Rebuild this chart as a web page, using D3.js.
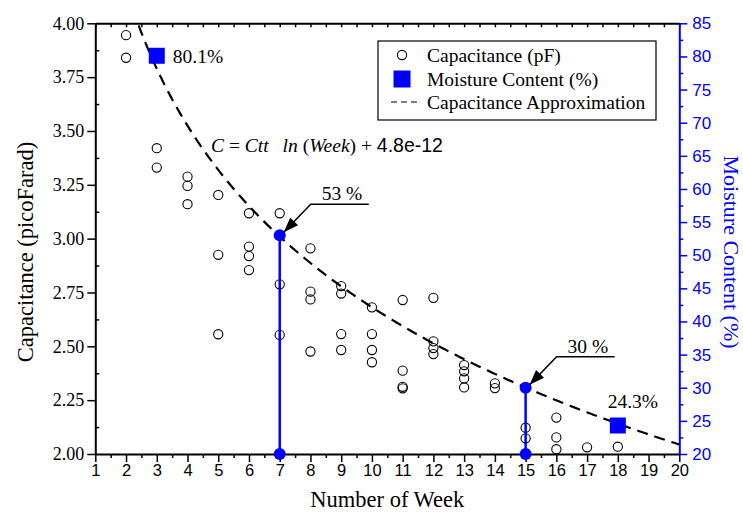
<!DOCTYPE html>
<html>
<head>
<meta charset="utf-8">
<script src="https://cdn.jsdelivr.net/npm/d3@7"></script>
<style>
  body { margin: 0; background: #fff; }
  svg { display: block; }
</style>
</head>
<body>
<svg class="chart"></svg>
<script>
// capacitance readings (pF), one entry per circle
var capWeeks  = [2, 2, 3, 3, 4, 4, 4, 5, 5, 5, 6, 6, 6, 6, 7, 7, 7,
                 8, 8, 8, 8, 9, 9, 9, 9, 10, 10, 10, 10, 11, 11, 11, 11,
                 12, 12, 12, 12, 13, 13, 13, 13, 14, 14, 15, 15, 16, 16, 16, 17, 18];
var capValues = [3.945, 3.84, 3.42, 3.33, 3.288, 3.245, 3.16, 3.203, 2.925, 2.556,
                 3.118, 2.963, 2.919, 2.854, 3.118, 2.788, 2.553,
                 2.955, 2.754, 2.718, 2.476, 2.78, 2.745, 2.557, 2.483,
                 2.681, 2.557, 2.483, 2.426, 2.715, 2.387, 2.312, 2.305,
                 2.725, 2.523, 2.492, 2.464, 2.413, 2.384, 2.351, 2.309,
                 2.328, 2.306, 2.122, 2.073, 2.169, 2.077, 2.022, 2.031, 2.034];

// moisture content (%)
var moistWeeks  = [3, 7, 15, 18];
var moistValues = [80.1, 53, 30, 24.3];
var moistLabels = ["80.1%", "53 %", "30 %", "24.3%"];

// approximation C = Ctt ln(Week) + 4.8 (pF)
var fitCtt = -0.92;
var fitOffset = 4.8;

var weekTicks  = d3.range(1, 21);
var capTicks   = [2.00, 2.25, 2.50, 2.75, 3.00, 3.25, 3.50, 3.75, 4.00];
var moistTicks = d3.range(20, 90, 5);

var legendLabels = ["Capacitance (pF)", "Moisture Content (%)", "Capacitance Approximation"];

var W = 743, H = 513;
var blue = "#0000ff";
var SERIF = "'Liberation Serif', 'Times New Roman', Times, serif";
var SANS = "'Liberation Sans', Arial, Helvetica, sans-serif";

var svg = d3.select(".chart").attr("width", W).attr("height", H);

var x  = d3.scaleLinear().domain([1, 20]).range([95.3, 679.3]);
var yL = d3.scaleLinear().domain([2, 4]).range([454, 23.3]);
var yR = d3.scaleLinear().domain([20, 85]).range([454, 23.3]);

var x0 = x.range()[0], x1 = x.range()[1], yb = yL.range()[0], yt = yL.range()[1];

svg.append("defs").append("clipPath").attr("id", "plot")
    .append("rect").attr("x", x0).attr("y", yt).attr("width", x1 - x0).attr("height", yb - yt);

function txt(sel, family, size) {
    return sel.style("font-family", family).style("font-size", size + "px");
}

// ---- axes ----
function styleAxis(g, color) {
    g.selectAll("path.domain").attr("stroke", color).attr("stroke-width", 2);
    g.selectAll(".tick line").attr("stroke", color).attr("stroke-width", 1.5);
}

var halfWeeks = d3.range(1.5, 20, 1);

var gx = svg.append("g").attr("transform", "translate(0," + yb + ")")
    .call(d3.axisBottom(x).tickValues(weekTicks).tickFormat(d3.format("d")).tickSize(8).tickSizeOuter(0).tickPadding(2));
txt(gx.selectAll("text"), SANS, 16.5).attr("fill", "#000");
styleAxis(gx, "#000");

svg.append("g").attr("transform", "translate(0," + yb + ")")
    .call(d3.axisBottom(x).tickValues(halfWeeks).tickFormat("").tickSize(4).tickSizeOuter(0))
    .call(function(g) { g.select(".domain").remove(); styleAxis(g, "#000"); });

var gt = svg.append("g").attr("transform", "translate(0," + yt + ")")
    .call(d3.axisTop(x).tickValues(weekTicks.concat(halfWeeks)).tickFormat("").tickSize(-4).tickSizeOuter(0));
styleAxis(gt, "#000");

var gl = svg.append("g").attr("transform", "translate(" + x0 + ",0)")
    .call(d3.axisLeft(yL).tickValues(capTicks).tickFormat(d3.format(".2f")).tickSize(8).tickSizeOuter(0).tickPadding(3));
txt(gl.selectAll("text"), SERIF, 18).attr("fill", "#000");
styleAxis(gl, "#000");

svg.append("g").attr("transform", "translate(" + x0 + ",0)")
    .call(d3.axisLeft(yL).tickValues(d3.range(2.125, 4, 0.25)).tickFormat("").tickSize(-4).tickSizeOuter(0))
    .call(function(g) { g.select(".domain").remove(); styleAxis(g, "#000"); });

var gr = svg.append("g").attr("transform", "translate(" + x1 + ",0)")
    .call(d3.axisRight(yR).tickValues(moistTicks).tickFormat(d3.format("d")).tickSize(8).tickSizeOuter(0).tickPadding(5));
txt(gr.selectAll("text"), SANS, 17).attr("fill", blue);
styleAxis(gr, blue);

svg.append("g").attr("transform", "translate(" + x1 + ",0)")
    .call(d3.axisRight(yR).tickValues(d3.range(22.5, 85, 5)).tickFormat("").tickSize(4).tickSizeOuter(0))
    .call(function(g) { g.select(".domain").remove(); styleAxis(g, blue); });

// axis titles
txt(svg.append("text"), SERIF, 22.5)
    .attr("text-anchor", "middle")
    .attr("transform", "translate(33,252) rotate(-90)")
    .text("Capacitance (picoFarad)");

txt(svg.append("text"), SERIF, 22.5)
    .attr("text-anchor", "middle")
    .attr("x", (x0 + x1) / 2).attr("y", 507)
    .text("Number of Week");

txt(svg.append("text"), SERIF, 22)
    .attr("text-anchor", "middle").attr("fill", blue)
    .attr("transform", "translate(724,252) rotate(90)")
    .text("Moisture Content (%)");

// ---- approximation curve ----
var fitPts = d3.range(1, 20.001, 0.05).map(function(w) { return [w, fitCtt * Math.log(w) + fitOffset]; });
svg.append("path")
    .attr("clip-path", "url(#plot)")
    .attr("d", d3.line().x(function(d) { return x(d[0]); }).y(function(d) { return yL(d[1]); })(fitPts))
    .attr("fill", "none").attr("stroke", "#000").attr("stroke-width", 2.2)
    .attr("stroke-dasharray", "11,7");

// ---- capacitance circles ----
svg.append("g").selectAll("circle")
    .data(capWeeks.map(function(w, i) { return [w, capValues[i]]; }))
    .enter().append("circle")
    .attr("cx", function(d) { return x(d[0]); })
    .attr("cy", function(d) { return yL(d[1]); })
    .attr("r", 4.6)
    .attr("fill", "none").attr("stroke", "#000").attr("stroke-width", 1.1);

// ---- moisture markers ----
var moist = moistWeeks.map(function(w, i) { return {w: w, v: moistValues[i], label: moistLabels[i], stem: i === 1 || i === 2}; });
var mg = svg.append("g");

moist.filter(function(d) { return d.stem; }).forEach(function(d) {
    mg.append("line")
        .attr("x1", x(d.w)).attr("x2", x(d.w))
        .attr("y1", yR(d.v)).attr("y2", yR(20))
        .attr("stroke", blue).attr("stroke-width", 2.5);
    [d.v, 20].forEach(function(v) {
        mg.append("circle").attr("cx", x(d.w)).attr("cy", yR(v)).attr("r", 6).attr("fill", blue);
    });
});

var sq = 16;
moist.filter(function(d) { return !d.stem; }).forEach(function(d) {
    mg.append("rect")
        .attr("x", x(d.w) - sq / 2).attr("y", yR(d.v) - sq / 2)
        .attr("width", sq).attr("height", sq).attr("fill", blue);
});

// labels next to the squares
txt(svg.append("text"), SERIF, 19.5)
    .attr("x", x(moist[0].w) + 16).attr("y", yR(moist[0].v) + 7)
    .text(moist[0].label);
txt(svg.append("text"), SERIF, 19.5)
    .attr("text-anchor", "middle")
    .attr("x", x(moist[3].w) + 15).attr("y", yR(moist[3].v) - 18)
    .text(moist[3].label);

// callouts with arrows for the stem points
function callout(d) {
    var tx = x(d.w) + 4, ty = yR(d.v) - 3;        // arrow tip
    var ex = x(d.w) + 31, ey = yR(d.v) - 31;      // elbow
    var hx = ex + 58;                              // end of the shelf
    svg.append("polyline")
        .attr("points", [[hx, ey], [ex, ey], [tx, ty]].map(function(p) { return p.join(","); }).join(" "))
        .attr("fill", "none").attr("stroke", "#000").attr("stroke-width", 1.5);
    var ang = Math.atan2(ty - ey, tx - ex), len = 15, half = 5.5;
    var bx = tx - len * Math.cos(ang), by = ty - len * Math.sin(ang);
    svg.append("polygon")
        .attr("points", [[tx, ty],
            [bx + half * Math.sin(ang), by - half * Math.cos(ang)],
            [bx - half * Math.sin(ang), by + half * Math.cos(ang)]].map(function(p) { return p.join(","); }).join(" "))
        .attr("fill", "#000");
    txt(svg.append("text"), SERIF, 19.5)
        .attr("x", ex + 11).attr("y", ey - 4)
        .text(d.label);
}
moist.filter(function(d) { return d.stem; }).forEach(callout);

// equation
var eq = txt(svg.append("text"), SERIF, 19.5)
    .attr("x", 211).attr("y", 152);
eq.append("tspan").style("font-style", "italic").text("C");
eq.append("tspan").text(" = ");
eq.append("tspan").style("font-style", "italic").text("Ctt");
eq.append("tspan").attr("dx", 14).style("font-style", "italic").text("ln");
eq.append("tspan").text(" (");
eq.append("tspan").style("font-style", "italic").text("Week");
eq.append("tspan").text(") + ");
eq.append("tspan").style("font-family", SANS).text("4.8e-12");

// ---- legend ----
var lg = svg.append("g").attr("transform", "translate(378,41)");
lg.append("rect").attr("width", 278).attr("height", 79)
    .attr("fill", "#fff").attr("stroke", "#000").attr("stroke-width", 1.2);
var rowY = [14, 38, 61];
lg.append("circle").attr("cx", 24).attr("cy", rowY[0]).attr("r", 4.6)
    .attr("fill", "none").attr("stroke", "#000").attr("stroke-width", 1.1);
lg.append("rect").attr("x", 24 - 8.5).attr("y", rowY[1] - 8.5).attr("width", 17).attr("height", 17).attr("fill", blue);
lg.append("line").attr("x1", 13).attr("x2", 39).attr("y1", rowY[2]).attr("y2", rowY[2])
    .attr("stroke", "#000").attr("stroke-width", 1.2).attr("stroke-dasharray", "6,4");
txt(lg.selectAll("text.item").data(legendLabels).enter().append("text"), SERIF, 19.5)
    .attr("class", "item")
    .attr("x", 49).attr("y", function(d, i) { return rowY[i] + 6.5; })
    .text(function(d) { return d; });
</script>
</body>
</html>
